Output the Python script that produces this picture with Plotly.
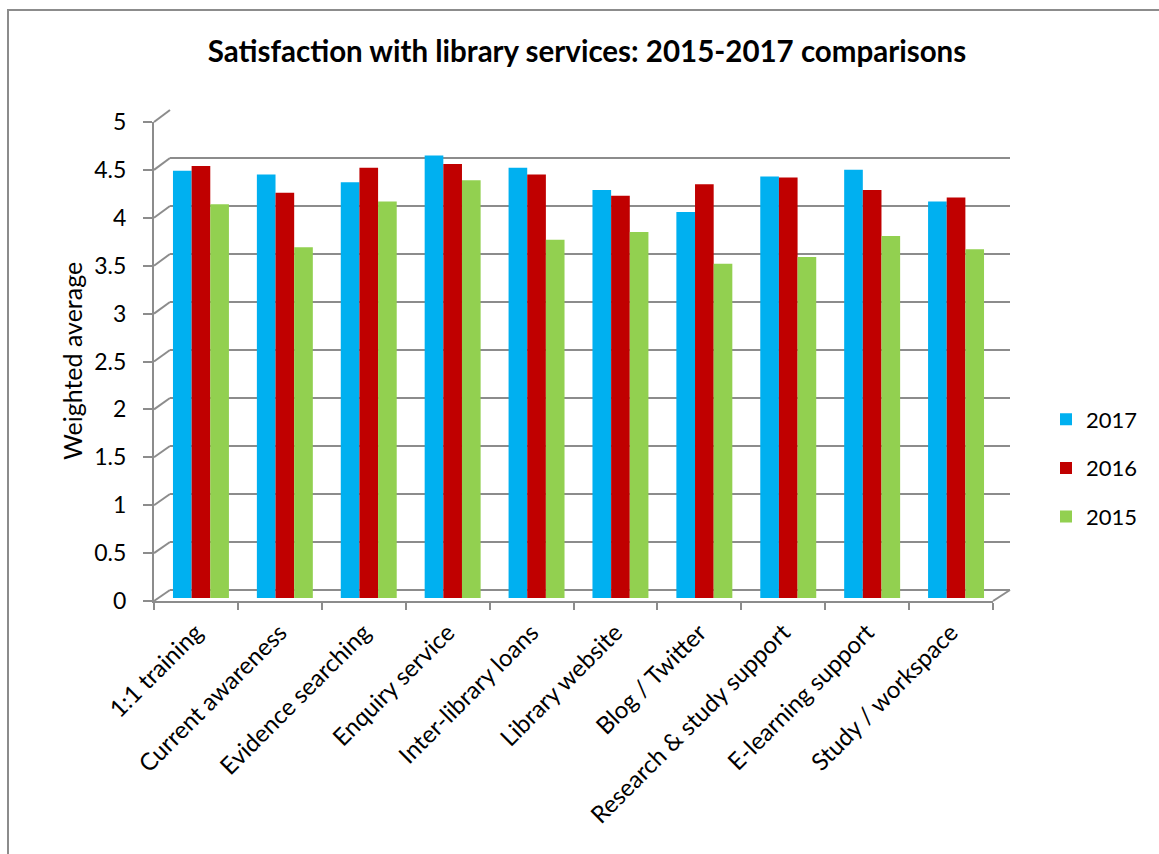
import plotly.graph_objects as go

categories = ["1:1 training", "Current awareness", "Evidence searching", "Enquiry service",
              "Inter-library loans", "Library website", "Blog / Twitter",
              "Research & study support", "E-learning support", "Study / workspace"]
values_2017 = [4.46, 4.42, 4.34, 4.62, 4.49, 4.26, 4.03, 4.40, 4.47, 4.14]
values_2016 = [4.51, 4.23, 4.49, 4.53, 4.42, 4.20, 4.32, 4.39, 4.26, 4.18]
values_2015 = [4.11, 3.66, 4.14, 4.36, 3.74, 3.82, 3.49, 3.56, 3.78, 3.64]
series_names = ["2017", "2016", "2015"]
series_colors = ["#00B0F0", "#C00000", "#92D050"]
y_ticks = [0, 0.5, 1, 1.5, 2, 2.5, 3, 3.5, 4, 4.5, 5]

W, H = 1159, 854
L, R, T, B = 154, 1010, 110, 601          # overall plot area in px
PW, PH = R - L, B - T

def px_x(p):
    return (p - L) / PW

def px_y(p):
    return (B - p) / PH

FONT = "Lato, 'Open Sans', sans-serif"
GRID = "#8c8c8c"

# depth planes: front (axis), back (wall grid), middle (bars)
front_x = [0, px_x(993)]
front_y = [0, px_y(122)]
back_x = [px_x(170), 1]
back_y = [px_y(590), 1]
mid_x = [px_x(159), px_x(998)]
mid_y = [px_y(598), px_y(119)]

fig = go.Figure()

# front axes carrier
fig.add_trace(go.Scatter(x=categories, y=[None] * len(categories), xaxis="x", yaxis="y",
                         showlegend=False, hoverinfo="skip", mode="markers"))
# back wall carrier
fig.add_trace(go.Scatter(x=[None], y=[None], xaxis="x2", yaxis="y2",
                         showlegend=False, hoverinfo="skip", mode="markers"))

for name, vals, col in zip(series_names, [values_2017, values_2016, values_2015], series_colors):
    fig.add_trace(go.Bar(x=categories, y=vals, name=name, marker_color=col,
                         marker_line_width=0, xaxis="x3", yaxis="y3",
                         legendgroup=name))

shapes = []
# chart border
shapes.append(dict(type="rect", xref="paper", yref="paper",
                   x0=px_x(8), y0=px_y(900), x1=px_x(1200), y1=px_y(10),
                   line=dict(color="#8c8c8c", width=2), fillcolor="rgba(0,0,0,0)", layer="below"))
# left wall diagonals
for v in y_ticks:
    yf = front_y[0] + v / 5 * (front_y[1] - front_y[0])
    yb = back_y[0] + v / 5 * (back_y[1] - back_y[0])
    shapes.append(dict(type="line", xref="paper", yref="paper",
                       x0=front_x[0], y0=yf, x1=back_x[0], y1=yb,
                       line=dict(color=GRID, width=2), layer="below"))
# floor right diagonal
shapes.append(dict(type="line", xref="paper", yref="paper",
                   x0=front_x[1], y0=front_y[0], x1=back_x[1], y1=back_y[0],
                   line=dict(color=GRID, width=2), layer="below"))

fig.update_layout(
    width=W, height=H,
    margin=dict(l=L, r=W - R, t=T, b=H - B, autoexpand=False),
    paper_bgcolor="white", plot_bgcolor="rgba(0,0,0,0)",
    font=dict(family=FONT, size=22, color="#000000"),
    barmode="group", bargap=0.333, bargroupgap=0,
    title=dict(text="<b>Satisfaction with library services: 2015-2017 comparisons</b>",
               x=587 / W, xref="container", xanchor="center",
               y=1 - 52 / H, yref="container", yanchor="middle",
               font=dict(family=FONT, size=29.5, color="#000000")),
    xaxis=dict(domain=front_x, anchor="y", type="category",
               categoryorder="array", categoryarray=categories, range=[-0.5, 9.5],
               showline=True, linecolor=GRID, linewidth=2,
               ticks="outside", tickson="boundaries", ticklen=7, tickcolor=GRID, tickwidth=2,
               ticklabelstandoff=6,
               tickangle=-45, tickfont=dict(size=24), showgrid=False, zeroline=False),
    yaxis=dict(domain=front_y, anchor="x", range=[0, 5], tickvals=y_ticks,
               ticktext=[("%g" % v) for v in y_ticks],
               showline=True, linecolor=GRID, linewidth=2,
               ticks="outside", ticklen=9, tickcolor=GRID, tickwidth=2,
               ticklabelstandoff=12,
               tickfont=dict(size=23), showgrid=False, zeroline=False),
    xaxis2=dict(domain=back_x, anchor="y2", range=[0, 1], visible=False),
    yaxis2=dict(domain=back_y, anchor="x2", range=[0, 5], dtick=0.5, tick0=0,
                showgrid=True, gridcolor=GRID, gridwidth=2,
                zeroline=True, zerolinecolor=GRID, zerolinewidth=2,
                showticklabels=False, ticks="", showline=False),
    xaxis3=dict(domain=mid_x, anchor="y3", type="category",
                categoryorder="array", categoryarray=categories, range=[-0.5, 9.5],
                visible=False),
    yaxis3=dict(domain=mid_y, anchor="x3", range=[0, 5], visible=False),
    legend=dict(x=px_x(1046), xanchor="left", y=px_y(468), yanchor="middle",
                traceorder="grouped", tracegroupgap=17,
                font=dict(size=22), bgcolor="rgba(0,0,0,0)"),
    annotations=[dict(text="Weighted average", xref="paper", yref="paper",
                      x=px_x(72), y=px_y(361), textangle=-90, showarrow=False,
                      xanchor="center", yanchor="middle", font=dict(size=25))],
    shapes=shapes,
)

fig.write_html("out.html", config={"displayModeBar": False},
               post_script="document.body.style.margin='0';")
